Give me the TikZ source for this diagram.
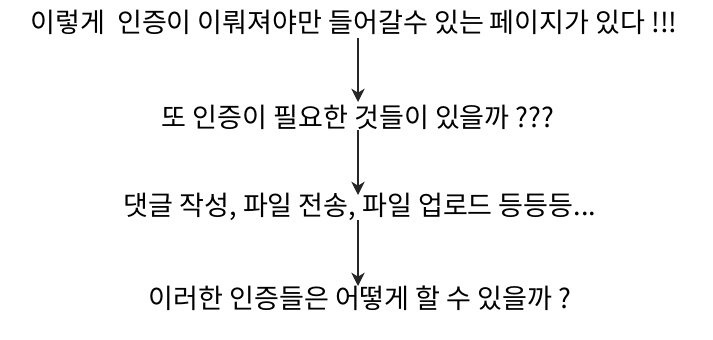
\documentclass[tikz,border=0pt]{standalone}
\usepackage{fontspec}
\usetikzlibrary{arrows.meta}
\setmainfont{Noto Sans CJK KR}
\begin{document}
\begin{tikzpicture}[x=0.75pt,y=-0.75pt,
  lbl/.style={inner sep=0pt,font=\fontsize{20.3}{24}\selectfont},
  arr/.style={draw=black!85,line width=1pt,-{Stealth[length=10pt,width=10pt,inset=3pt]}}]
\useasboundingbox (0,0) rectangle (713,339);
\node[lbl] (t1) at (354,22) {이렇게\ \ 인증이 이뤄져야만 들어갈수 있는 페이지가 있다 !!!};
\node[lbl] (t2) at (358,117) {또 인증이 필요한 것들이 있을까 ???};
\node[lbl] (t3) at (360,207) {댓글 작성, 파일 전송, 파일 업로드 등등등...};
\node[lbl] (t4) at (360,298) {이러한 인증들은 어떻게 할 수 있을까 ?};
\coordinate (a1) at (358,38);
\coordinate (b1) at (358,102);
\coordinate (a2) at (358,130);
\coordinate (b2) at (358,195);
\coordinate (a3) at (358,220);
\coordinate (b3) at (358,286);
\draw[arr] (a1) -- (b1);
\draw[arr] (a2) -- (b2);
\draw[arr] (a3) -- (b3);
\end{tikzpicture}
\end{document}
